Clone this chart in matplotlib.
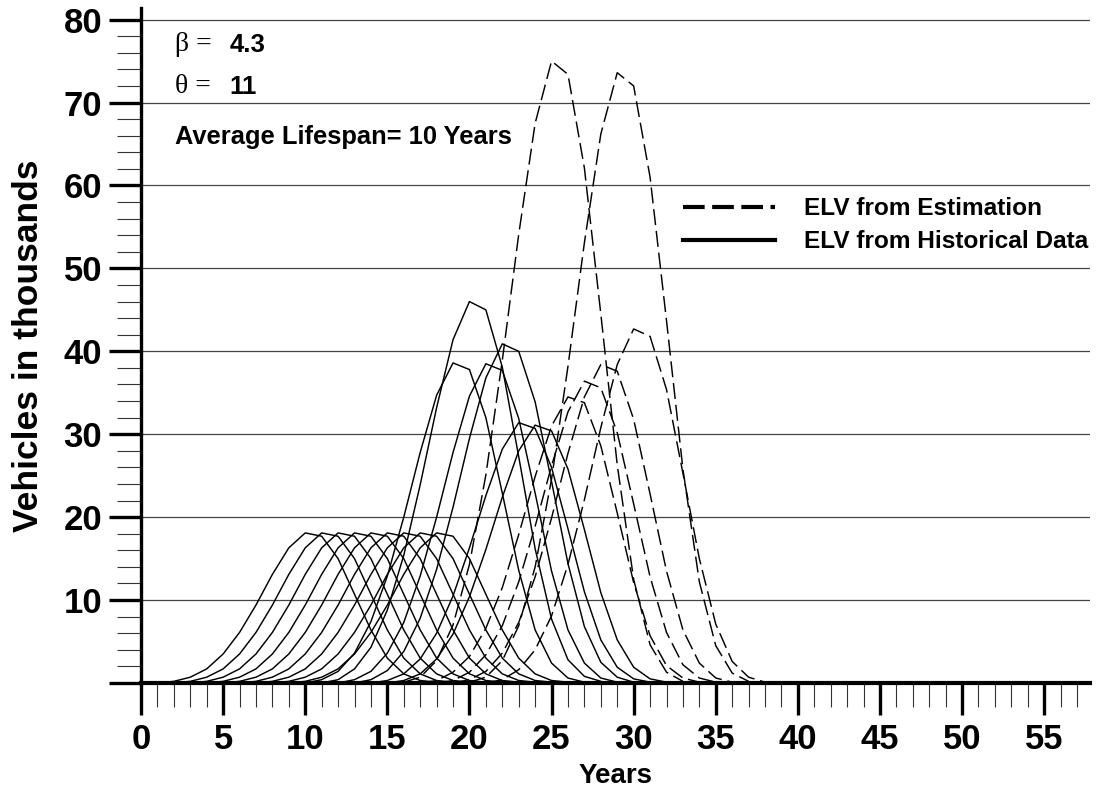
import matplotlib
matplotlib.use("Agg")
import numpy as np
import matplotlib.pyplot as plt
from matplotlib.lines import Line2D
from matplotlib.ticker import MultipleLocator

plt.rcParams['font.family'] = ['Liberation Sans', 'DejaVu Sans']

# --- data: ELV per year for each sales cohort, by vehicle age (thousands) ---
ages = list(range(1, 19))

# nine early cohorts (start years 0..8) share the same profile
hist_flat_starts = [0, 1, 2, 3, 4, 5, 6, 7, 8]
hist_flat = [0.0, 0.2, 0.7, 1.7, 3.5, 6.1, 9.4, 13.1, 16.3, 18.1, 17.7, 15.0, 10.7, 6.4, 3.0, 1.1, 0.3, 0.1]

hist_y9 = [0.0, 0.4, 1.4, 3.6, 7.4, 12.9, 20.0, 27.8, 34.7, 38.6, 37.8, 32.0, 22.9, 13.6, 6.4, 2.4, 0.6, 0.1]
hist_y10 = [0.0, 0.4, 1.7, 4.3, 8.8, 15.4, 23.9, 33.2, 41.4, 46.0, 45.0, 38.1, 27.3, 16.2, 7.7, 2.8, 0.8, 0.2]
hist_y11 = [0.0, 0.4, 1.4, 3.6, 7.3, 12.9, 20.0, 27.8, 34.6, 38.5, 37.7, 31.9, 22.9, 13.5, 6.4, 2.4, 0.6, 0.1]
hist_y12 = [0.0, 0.4, 1.5, 3.8, 7.8, 13.7, 21.2, 29.5, 36.8, 40.9, 40.0, 33.9, 24.3, 14.4, 6.8, 2.5, 0.7, 0.1]
hist_y13 = [0.0, 0.3, 1.1, 2.9, 6.0, 10.5, 16.3, 22.6, 28.2, 31.4, 30.7, 26.0, 18.6, 11.0, 5.2, 1.9, 0.5, 0.1]
hist_y14 = [0.0, 0.3, 1.1, 2.9, 5.9, 10.4, 16.1, 22.4, 28.0, 31.1, 30.4, 25.8, 18.5, 10.9, 5.2, 1.9, 0.5, 0.1]

est_y15 = [0.1, 0.7, 2.7, 7.0, 14.3, 25.1, 38.9, 54.1, 67.5, 75.0, 73.4, 62.1, 44.5, 26.3, 12.5, 4.6, 1.3, 0.2]
est_y16 = [0.0, 0.3, 1.3, 3.2, 6.6, 11.5, 17.9, 24.9, 31.0, 34.5, 33.8, 28.6, 20.5, 12.1, 5.7, 2.1, 0.6, 0.1]
est_y17 = [0.0, 0.3, 1.3, 3.4, 6.9, 12.2, 18.9, 26.2, 32.7, 36.4, 35.6, 30.2, 21.6, 12.8, 6.1, 2.2, 0.6, 0.1]
est_y18 = [0.0, 0.4, 1.4, 3.6, 7.3, 12.8, 19.9, 27.7, 34.5, 38.4, 37.6, 31.8, 22.8, 13.5, 6.4, 2.4, 0.6, 0.1]
est_y19 = [0.1, 0.7, 2.7, 6.9, 14.0, 24.6, 38.2, 53.1, 66.2, 73.6, 72.0, 61.0, 43.7, 25.8, 12.2, 4.5, 1.2, 0.2]
est_y20 = [0.0, 0.4, 1.6, 4.0, 8.1, 14.3, 22.1, 30.8, 38.4, 42.7, 41.8, 35.4, 25.3, 15.0, 7.1, 2.6, 0.7, 0.1]

hist_curves = [(s, hist_flat) for s in hist_flat_starts] + [
    (9, hist_y9), (10, hist_y10), (11, hist_y11), (12, hist_y12), (13, hist_y13), (14, hist_y14)]
est_curves = [(15, est_y15), (16, est_y16), (17, est_y17), (18, est_y18), (19, est_y19), (20, est_y20)]

beta, theta, lifespan = "4.3", "11", 10

# --- figure ---
fig = plt.figure(figsize=(11.14, 7.94), dpi=100)
ax = fig.add_axes([0.1266, 0.1398, 0.852, 0.8501])

for start, vals in hist_curves:
    ax.plot(np.array(ages) + start, vals, color='black', lw=1.05)
for start, vals in est_curves:
    ax.plot(np.array(ages) + start, vals, color='black', lw=1.05, dashes=(11, 4))

ax.set_xlim(0, 57.8)
ax.set_ylim(0, 81.4)

for side in ['top', 'right']:
    ax.spines[side].set_visible(False)
ax.spines['left'].set_linewidth(2.4)
ax.spines['bottom'].set_linewidth(3.0)

ax.xaxis.set_major_locator(MultipleLocator(5))
ax.xaxis.set_minor_locator(MultipleLocator(1))
ax.yaxis.set_major_locator(MultipleLocator(10))
ax.yaxis.set_minor_locator(MultipleLocator(2))
ax.tick_params(which='major', direction='out', length=23, width=2.4, labelsize=25, pad=5)
ax.tick_params(which='minor', direction='out', length=17, width=0.8, color='#333333')
ax.tick_params(axis='x', which='major', pad=6)
ax.set_yticks(range(0, 81, 10))
ax.set_yticklabels([''] + [str(v) for v in range(10, 81, 10)])
for lbl in ax.get_xticklabels() + ax.get_yticklabels():
    lbl.set_fontweight('bold')

ax.yaxis.grid(True, which='major', color='#444444', lw=0.9)
ax.set_axisbelow(True)

ax.set_xlabel('Years', fontsize=20, fontweight='bold', labelpad=5)
ax.set_ylabel('Vehicles in thousands', fontsize=25.5, fontweight='bold', labelpad=13)

# parameter notes
ax.text(2.07, 77.0, 'β =', family='Liberation Serif', fontsize=20, va='center')
ax.text(5.4, 77.0, beta, fontsize=18.5, fontweight='bold', va='center')
ax.text(2.07, 71.9, 'θ =', family='Liberation Serif', fontsize=20, va='center')
ax.text(5.4, 71.9, theta, fontsize=18.5, fontweight='bold', va='center')
ax.text(2.07, 65.8, f'Average Lifespan= {lifespan} Years', fontsize=18.4,
        fontweight='bold', va='center')

handles = [Line2D([], [], color='black', lw=3.0, dashes=(5.2, 1.8)),
           Line2D([], [], color='black', lw=3.0)]
ax.legend(handles, ['ELV from Estimation', 'ELV from Historical Data'],
          loc='center left', bbox_to_anchor=(0.571, 0.678), frameon=False,
          prop={'weight': 'bold', 'size': 17.6}, handlelength=3.75,
          handletextpad=1.2, labelspacing=0.42, borderpad=0, borderaxespad=0)

fig.savefig('out.png', dpi=100)
